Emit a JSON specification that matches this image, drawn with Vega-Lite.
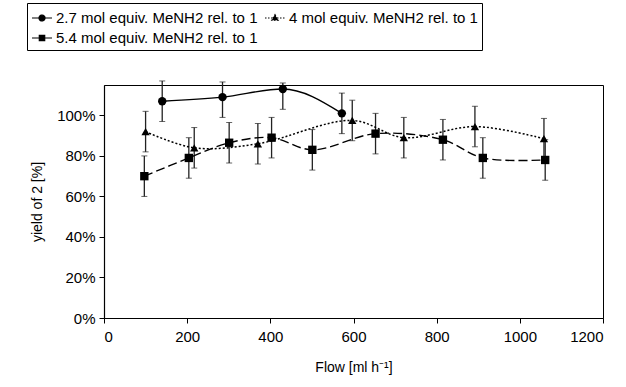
{
  "$schema": "https://vega.github.io/schema/vega-lite/v6.json",
  "width": 499,
  "height": 233,
  "autosize": "none",
  "padding": {"left": 104, "top": 85, "right": 23, "bottom": 69},
  "background": "white",
  "config": {
    "font": "Liberation Sans",
    "view": {"stroke": "black", "strokeWidth": 1},
    "axis": {"grid": false, "domainColor": "black", "tickColor": "black", "labelColor": "black", "titleColor": "black", "labelFont": "Liberation Sans", "titleFont": "Liberation Sans", "labelFontSize": 15, "titleFontSize": 14, "titleFontWeight": "normal", "tickSize": 5, "domainWidth": 1.2}
  },
  "data": {
    "values": [
      {"s": "2.7 mol equiv. MeNH2 rel. to 1", "x": 140, "y": 1.07, "lo": 0.97, "hi": 1.17},
      {"s": "2.7 mol equiv. MeNH2 rel. to 1", "x": 285, "y": 1.09, "lo": 0.99, "hi": 1.165},
      {"s": "2.7 mol equiv. MeNH2 rel. to 1", "x": 430, "y": 1.13, "lo": 1.03, "hi": 1.16},
      {"s": "2.7 mol equiv. MeNH2 rel. to 1", "x": 572, "y": 1.01, "lo": 0.91, "hi": 1.11},
      {"s": "4 mol equiv. MeNH2 rel. to 1", "x": 100, "y": 0.92, "lo": 0.82, "hi": 1.02},
      {"s": "4 mol equiv. MeNH2 rel. to 1", "x": 217, "y": 0.84, "lo": 0.74, "hi": 0.94},
      {"s": "4 mol equiv. MeNH2 rel. to 1", "x": 370, "y": 0.86, "lo": 0.76, "hi": 0.96},
      {"s": "4 mol equiv. MeNH2 rel. to 1", "x": 597, "y": 0.975, "lo": 0.875, "hi": 1.075},
      {"s": "4 mol equiv. MeNH2 rel. to 1", "x": 721, "y": 0.89, "lo": 0.79, "hi": 0.99},
      {"s": "4 mol equiv. MeNH2 rel. to 1", "x": 892, "y": 0.945, "lo": 0.845, "hi": 1.045},
      {"s": "4 mol equiv. MeNH2 rel. to 1", "x": 1058, "y": 0.885, "lo": 0.785, "hi": 0.985},
      {"s": "5.4 mol equiv. MeNH2 rel. to 1", "x": 97, "y": 0.70, "lo": 0.60, "hi": 0.80},
      {"s": "5.4 mol equiv. MeNH2 rel. to 1", "x": 204, "y": 0.79, "lo": 0.69, "hi": 0.89},
      {"s": "5.4 mol equiv. MeNH2 rel. to 1", "x": 301, "y": 0.865, "lo": 0.765, "hi": 0.965},
      {"s": "5.4 mol equiv. MeNH2 rel. to 1", "x": 403, "y": 0.89, "lo": 0.79, "hi": 0.99},
      {"s": "5.4 mol equiv. MeNH2 rel. to 1", "x": 501, "y": 0.83, "lo": 0.73, "hi": 0.93},
      {"s": "5.4 mol equiv. MeNH2 rel. to 1", "x": 653, "y": 0.91, "lo": 0.81, "hi": 1.01},
      {"s": "5.4 mol equiv. MeNH2 rel. to 1", "x": 815, "y": 0.88, "lo": 0.78, "hi": 0.98},
      {"s": "5.4 mol equiv. MeNH2 rel. to 1", "x": 911, "y": 0.79, "lo": 0.69, "hi": 0.89},
      {"s": "5.4 mol equiv. MeNH2 rel. to 1", "x": 1061, "y": 0.78, "lo": 0.68, "hi": 0.88}
    ]
  },
  "encoding": {
    "x": {"field": "x", "type": "quantitative", "scale": {"domain": [0, 1200], "nice": false}, "axis": {"values": [0, 200, 400, 600, 800, 1000, 1200], "format": "d", "title": "Flow [ml h⁻¹]", "labelPadding": 6, "titlePadding": 16}},
    "y": {"field": "y", "type": "quantitative", "scale": {"domain": [0, 1.15], "nice": false}, "axis": {"values": [0, 0.2, 0.4, 0.6, 0.8, 1.0], "format": ".0%", "title": "yield of 2 [%]", "labelPadding": 4, "titlePadding": 12}}
  },
  "layer": [
    {
      "mark": {"type": "rule", "color": "#222", "strokeWidth": 1.3},
      "encoding": {"y": {"field": "lo", "type": "quantitative"}, "y2": {"field": "hi"}}
    },
    {
      "mark": {"type": "tick", "orient": "horizontal", "color": "#222", "thickness": 1, "size": 6},
      "encoding": {"y": {"field": "lo", "type": "quantitative"}}
    },
    {
      "mark": {"type": "tick", "orient": "horizontal", "color": "#222", "thickness": 1, "size": 6},
      "encoding": {"y": {"field": "hi", "type": "quantitative"}}
    },
    {
      "transform": [{"filter": "datum.s == '2.7 mol equiv. MeNH2 rel. to 1'"}],
      "mark": {"type": "line", "color": "black", "strokeWidth": 1.4, "interpolate": "monotone"},
      "encoding": {}
    },
    {
      "transform": [{"filter": "datum.s == '4 mol equiv. MeNH2 rel. to 1'"}],
      "mark": {"type": "line", "color": "black", "strokeWidth": 1.5, "strokeDash": [2, 2], "interpolate": "catmull-rom"},
      "encoding": {}
    },
    {
      "transform": [{"filter": "datum.s == '5.4 mol equiv. MeNH2 rel. to 1'"}],
      "mark": {"type": "line", "color": "black", "strokeWidth": 1.4, "strokeDash": [9, 4], "interpolate": "catmull-rom"},
      "encoding": {}
    },
    {
      "mark": {"type": "point", "filled": true, "color": "black", "opacity": 1, "size": 70},
      "encoding": {
        "shape": {"field": "s", "type": "nominal", "legend": null,
          "scale": {"domain": ["2.7 mol equiv. MeNH2 rel. to 1", "4 mol equiv. MeNH2 rel. to 1", "5.4 mol equiv. MeNH2 rel. to 1"], "range": ["circle", "triangle-up", "square"]}
        }
      }
    },
    {
      "transform": [{"filter": "datum.x < 0"}],
      "mark": {"type": "point", "filled": false, "fill": "black", "stroke": "black", "strokeWidth": 1.2, "opacity": 1},
      "encoding": {
        "shape": {"field": "s", "type": "nominal", "title": null,
          "scale": {"domain": ["2.7 mol equiv. MeNH2 rel. to 1", "4 mol equiv. MeNH2 rel. to 1", "5.4 mol equiv. MeNH2 rel. to 1"],
            "range": ["M-1,0H1M0.3,0A0.3,0.3,0,1,1,-0.3,0A0.3,0.3,0,1,1,0.3,0Z", "M-1,0H1M0,-0.32L0.32,0.22L-0.32,0.22Z", "M-1,0H1M-0.27,-0.27H0.27V0.27H-0.27Z"]},
          "legend": {
            "orient": "none", "legendX": -77, "legendY": -82, "columns": 2, "direction": "horizontal",
            "strokeColor": "black", "padding": 4, "symbolSize": 400, "symbolStrokeWidth": 1.2,
            "labelFont": "Liberation Sans", "labelFontSize": 15, "labelColor": "black", "labelOffset": 3,
            "columnPadding": 4, "rowPadding": 1, "labelLimit": 300,
            "encode": {"symbols": {"update": {"stroke": {"value": "black"}, "fill": {"value": "black"}, "strokeWidth": {"value": 1.2}, "opacity": {"value": 1}}}}
          }
        },
        "strokeDash": {"field": "s", "type": "nominal", "title": null,
          "scale": {"domain": ["2.7 mol equiv. MeNH2 rel. to 1", "4 mol equiv. MeNH2 rel. to 1", "5.4 mol equiv. MeNH2 rel. to 1"],
            "range": [[1, 0], [1.5, 1.5], [1, 0]]},
          "legend": {
            "orient": "none", "legendX": -77, "legendY": -82, "columns": 2, "direction": "horizontal",
            "strokeColor": "black", "padding": 4, "symbolSize": 400, "symbolStrokeWidth": 1.2,
            "labelFont": "Liberation Sans", "labelFontSize": 15, "labelColor": "black", "labelOffset": 3,
            "columnPadding": 4, "rowPadding": 1, "labelLimit": 300,
            "encode": {"symbols": {"update": {"stroke": {"value": "black"}, "fill": {"value": "black"}, "strokeWidth": {"value": 1.2}, "opacity": {"value": 1}}}}
          }
        }
      }
    }
  ],
  "resolve": {"scale": {"shape": "independent", "strokeDash": "independent"}}
}
